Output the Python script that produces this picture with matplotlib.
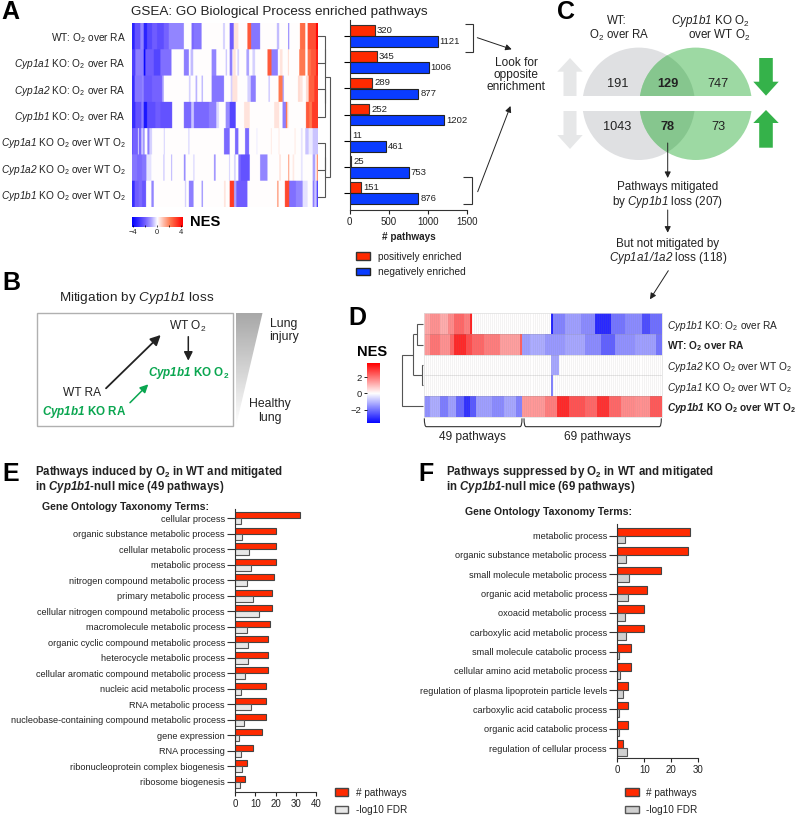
import numpy as np
import matplotlib
matplotlib.use("Agg")
import matplotlib.pyplot as plt
from matplotlib.colors import LinearSegmentedColormap
from matplotlib.patches import Circle, Rectangle, Polygon, PathPatch, Patch
from matplotlib.path import Path

plt.rcParams['font.family'] = ['Liberation Sans', 'DejaVu Sans']
plt.rcParams['mathtext.fontset'] = 'custom'
plt.rcParams['mathtext.rm'] = 'Liberation Sans'
plt.rcParams['mathtext.it'] = 'Liberation Sans:italic'
plt.rcParams['mathtext.cal'] = 'Liberation Sans:italic'
plt.rcParams['mathtext.bf'] = 'Liberation Sans:bold'
plt.rcParams['mathtext.bfit'] = 'Liberation Sans:italic:bold'

# ---------- data ----------
a_labels = [r"WT: O$_2$ over RA", r"$\mathcal{Cyp1a1}$ KO: O$_2$ over RA", r"$\mathcal{Cyp1a2}$ KO: O$_2$ over RA",
            r"$\mathcal{Cyp1b1}$ KO: O$_2$ over RA", r"$\mathcal{Cyp1a1}$ KO O$_2$ over WT O$_2$",
            r"$\mathcal{Cyp1a2}$ KO O$_2$ over WT O$_2$", r"$\mathcal{Cyp1b1}$ KO O$_2$ over WT O$_2$"]
a_pos = [320, 345, 289, 252, 11, 25, 151]
a_neg = [1121, 1006, 877, 1202, 461, 753, 876]

# heat map A: runs of (first column, last column, NES); all other columns are 0
a_columns = 556
a_row1 = [(0,8,-3.2),(8,25,-2.2),(25,35,-1.4),(35,45,-3.2),(45,60,-2.4),(60,75,-2.0),(75,95,-2.3),(95,110,-1.9),
          (110,155,-1.4),(178,185,-1.8),(185,208,-1.6),(272,278,-.5),(292,304,-2),(304,318,.4),(345,356,2.5),
          (356,383,-1.6),(433,440,-.7),(467,470,-1.6),(502,518,2.2),(525,550,2.7),(550,556,3.9)]
a_row2 = [(0,10,-2.6),(10,32,-1.5),(32,35,-1.5),(35,40,-3.8),(40,65,-2),(65,85,-2.5),(85,118,-1.7),(155,170,-1.5),(175,183,-.7),
          (238,252,-1.4),(280,284,-.6),(292,300,-1.5),(302,310,.4),(315,320,-.5),(342,350,-1),(360,368,-.5),
          (405,417,2.5),(417,436,-1.5),(442,450,.4),(466,469,.5),(500,518,2),(525,535,2.1),(535,550,2.5),(550,556,3.4)]
a_row3 = [(0,8,-3),(8,30,-1.6),(30,35,-1.4),(35,60,-2.1),(60,90,-1.9),(90,95,-1),(170,175,-.5),(190,195,-.8),(208,212,-.8),
          (238,275,-1.6),(295,300,-.5),(300,315,.4),(345,355,-.5),(355,370,-1.5),(408,412,-.6),(438,450,2),(450,454,-1),
          (496,502,.5),(502,510,.4),(520,528,.5),(528,545,2.4),(545,556,3)]
a_row4 = [(0,10,-3),(10,28,-2.2),(28,35,-1.5),(35,45,-3.5),(45,70,-2.3),(70,85,-2),(85,120,-2.2),(155,177,-1.8),
          (177,185,-.6),(185,230,-1.8),(230,252,-1.5),(252,260,-.4),(280,292,-1.3),(292,310,-2.5),(335,352,.4),
          (425,440,.4),(450,460,-1.5),(460,464,2),(464,468,.4),(520,530,2.5),(530,538,2),(538,556,3)]
a_row5 = [(0,3,-2.2),(3,18,-1.9),(20,28,-1.8),(28,32,-.4),(32,38,-1.1),(46,52,-1.5),(52,60,-.5),(95,98,-.5),(168,172,-.4),
          (275,292,-1.8),(308,318,-1.8),(338,350,-1.8),(372,375,-.2),(415,418,.3),(438,441,.3),(485,490,.2),
          (505,510,-.3),(518,528,-.6),(528,540,-.2),(540,556,-.6)]
a_row6 = [(0,15,-1.6),(15,30,-1.8),(30,43,-1.6),(43,58,-.3),(94,97,-.7),(117,120,-.8),(155,160,-1.3),(183,187,-.4),
          (245,250,-1.2),(290,293,-.5),(305,310,-.5),(318,325,-1.8),(325,352,-2.2),(383,405,-1.4),(440,445,.4),
          (467,470,1.5),(480,485,.3),(505,510,-.3),(540,548,-1),(552,556,1.5)]
a_row7 = [(0,8,-3),(8,20,-2),(20,30,-1.8),(30,42,-2.1),(58,65,-1.4),(158,162,-.5),(170,184,-1.5),(208,212,-1.2),
          (275,280,.4),(292,305,3),(305,312,-1),(312,345,-2),(434,438,1.5),(457,470,2.8),(470,490,-1.7),(490,510,-1.4),
          (510,525,-.3),(540,545,-1.5),(545,552,-.6),(552,556,-2.5)]

venn_counts = ["191", "747", "1043", "73"]
venn_shared = ["129", "78"]

d_labels = [r"$\mathcal{Cyp1b1}$ KO: O$_2$ over RA", r"WT: O$_\mathbf{2}$ over RA", r"$\mathcal{Cyp1a2}$ KO O$_2$ over WT O$_2$",
            r"$\mathcal{Cyp1a1}$ KO O$_2$ over WT O$_2$", r"$\mathbfit{Cyp1b1}$ KO O$_\mathbf{2}$ over WT O$_\mathbf{2}$"]
d_bold_rows = [1, 4]
d_columns = 118
d_row1 = [(0,3,1.3),(3,8,1.6),(8,12,1.2),(12,15,1.7),(15,20,2.2),(20,23,1.9),(23,24,3.2),(63,64,-3.2),(64,70,-1.8),
          (70,78,-1.4),(78,85,-1.7),(85,93,-3.1),(93,100,-2),(100,108,-1.7),(108,112,-2.6),(112,118,-2.1)]
d_row2 = [(0,3,1.5),(3,8,2),(8,13,1.6),(13,15,2.2),(15,21,3.1),(21,24,2.6),(24,30,2.2),(30,38,1.9),(38,48,1.4),(48,49,2.3),
          (49,53,-1.4),(53,60,-1.2),(60,70,-1.5),(70,80,-1.3),(80,88,-1.7),(88,95,-2.3),(95,105,-1.6),(105,115,-1.4),(115,118,-2)]
d_row3 = [(63,67,-1.3)]
d_row4 = [(63,64,-1.8)]
d_row5 = [(0,3,-1.6),(3,8,-1.2),(8,12,-1.9),(12,16,-1.4),(16,20,-2.2),(20,23,-3),(23,26,-2.4),(26,34,-1.4),(34,40,-1.7),
          (40,46,-1.3),(46,49,-1.8),(49,60,1.5),(60,66,1.9),(66,72,3.1),(72,80,2.5),(80,86,2.2),(86,92,3),(92,98,2.2),
          (98,105,1.7),(105,112,1.6),(112,118,2.4)]

e_terms = ["cellular process", "organic substance metabolic process", "cellular metabolic process", "metabolic process",
           "nitrogen compound metabolic process", "primary metabolic process", "cellular nitrogen compound metabolic process",
           "macromolecule metabolic process", "organic cyclic compound metabolic process", "heterocycle metabolic process",
           "cellular aromatic compound metabolic process", "nucleic acid metabolic process", "RNA metabolic process",
           "nucleobase-containing compound metabolic process", "gene expression", "RNA processing",
           "ribonucleoprotein complex biogenesis", "ribosome biogenesis"]
e_pathways = [32, 20, 20, 20, 19, 18, 18, 17, 16, 16, 16, 15, 15, 15, 13, 9, 6, 5]
e_fdr = [3, 3.5, 6.8, 7.8, 6, 8.8, 11.8, 5.6, 6.2, 6.4, 5, 3, 7.6, 4.5, 2, 2.6, 3.4, 2.5]

f_terms = ["metabolic process", "organic substance metabolic process", "small molecule metabolic process",
           "organic acid metabolic process", "oxoacid metabolic process", "carboxylic acid metabolic process",
           "small molecule catabolic process", "cellular amino acid metabolic process",
           "regulation of plasma lipoprotein particle levels", "carboxylic acid catabolic process",
           "organic acid catabolic process", "regulation of cellular process"]
f_pathways = [27, 26, 16, 11, 10, 10, 5, 5, 4, 4, 4, 2]
f_fdr = [3, 3.1, 4.3, 3.8, 3, 3.3, 0.6, 1, 2, 0.8, 0.8, 3.7]

# ---------- helpers ----------
W, H = 797, 815
fig = plt.figure(figsize=(W/100, H/100), dpi=100)
TXT = '#222222'
RED, BLUE = '#ff2a00', '#0a3cff'
FS = 6.8
bwr = LinearSegmentedColormap.from_list('nes', ['#0000ff', '#ffffff', '#ff0000'])
bwr_a = LinearSegmentedColormap.from_list('nes_a', [(0, '#0000ff'), (.25, '#6f5cff'), (.375, '#aaa0ff'), (.5, '#ffffff'),
                                                    (.625, '#ffb9a6'), (.75, '#ff7a50'), (1, '#ff0000')])

def px_axes(l, t, r, b, **kw):
    return fig.add_axes([l/W, 1-b/H, (r-l)/W, (b-t)/H], **kw)

def runs_to_row(runs, n):
    row = np.zeros(n)
    for s, e, v in runs:
        row[s:e] = v
    return row

bg = px_axes(0, 0, W, H)
bg.set_xlim(0, W); bg.set_ylim(H, 0); bg.axis('off')

def T(x, y, s, size=FS, ha='center', va='center', color=TXT, **kw):
    return bg.text(x, y, s, fontsize=size, ha=ha, va=va, color=color, **kw)

def L(xs, ys, color='#555555', lw=0.8, **kw):
    bg.plot(xs, ys, color=color, lw=lw, solid_capstyle='butt', solid_joinstyle='miter', **kw)

def arrow(x0, y0, x1, y1, color='#222222', lw=0.7, scale=9):
    bg.annotate('', xy=(x1, y1), xytext=(x0, y0),
                arrowprops=dict(arrowstyle='-|>', color=color, lw=lw, mutation_scale=scale,
                                shrinkA=0, shrinkB=0))

def style_axis(ax):
    for s in ('top', 'right'):
        ax.spines[s].set_visible(False)
    for s in ('left', 'bottom'):
        ax.spines[s].set_color('#333333'); ax.spines[s].set_linewidth(0.8)

def add_legend(ax, handles, x, y, w, h, spacing, fs):
    fs_px = fs*100/72
    ax.legend(handles=handles, loc='upper left', bbox_to_anchor=(x/W, 1-y/H), bbox_transform=fig.transFigure,
              frameon=False, fontsize=fs, borderpad=0, borderaxespad=0, handlelength=w/fs_px, handleheight=h/fs_px,
              handletextpad=7.5/fs_px, labelspacing=spacing/fs_px, labelcolor=TXT)

# panel letters
for x, y, s in [(1, 12, 'A'), (2, 283, 'B'), (557, 12, 'C'), (348, 318, 'D'), (2, 474, 'E'), (418, 474, 'F')]:
    T(x, y, s, size=18, ha='left', fontweight='bold', color='black')

# ---------- A ----------
T(131, 11.5, "GSEA: GO Biological Process enriched pathways", size=9.7, ha='left')
ax = px_axes(131.5, 23, 317.5, 207)
mat = np.array([runs_to_row(r, a_columns) for r in (a_row1, a_row2, a_row3, a_row4, a_row5, a_row6, a_row7)])
ax.imshow(np.repeat(mat, 40, axis=0), aspect='auto', cmap=bwr_a, vmin=-4, vmax=4, interpolation='hanning',
          interpolation_stage='rgba', extent=(-.5, a_columns-.5, 6.5, -.5))
ax.set_xticks([])
ax.set_yticks(range(7)); ax.set_yticklabels(a_labels, fontsize=7.25, color=TXT)
ax.tick_params(axis='y', length=0, pad=4)
for s in ax.spines.values():
    s.set_visible(False)

# A dendrogram
for xs, ys in [([317, 325, 325, 317], [36, 36, 62.7, 62.7]), ([317, 325.5, 325.5, 317], [89, 89, 116.7, 116.7]),
               ([325.5, 325.5], [49, 103]), ([325.5, 330, 330, 325], [76.7, 76.7, 176.7, 176.7]),
               ([317, 325, 325, 317], [143, 143, 170, 170]), ([325, 325, 317], [156.7, 196.7, 196.7])]:
    L(xs, ys)

# A bars
ax = px_axes(349.5, 20, 467.3, 210)
ys = np.arange(7)
ax.barh(ys-0.21, a_pos, 0.41, color=RED, edgecolor='#333333', lw=0.8, label='positively enriched')
ax.barh(ys+0.21, a_neg, 0.41, color=BLUE, edgecolor='#222222', lw=0.8, label='negatively enriched')
ax.set_xlim(0, 1500)
ax.set_ylim(6+(210-193.2)/26.2, -(36-20)/26.2)
for y, p, n in zip(ys, a_pos, a_neg):
    ax.text(p+28, y-0.21, str(p), fontsize=FS, va='center', color=TXT)
    ax.text(n+28, y+0.21, str(n), fontsize=FS, va='center', color=TXT)
ax.set_xticks([0, 500, 1000, 1500]); ax.set_yticks(ys); ax.set_yticklabels([])
ax.tick_params(axis='x', labelsize=7, colors=TXT, length=3, width=.8, pad=2)
ax.tick_params(axis='y', length=4, width=.8)
ax.set_xlabel('# pathways', fontsize=7.2, fontweight='bold', color=TXT, labelpad=4)
style_axis(ax); ax.patch.set_alpha(0)
add_legend(ax, [Patch(facecolor=RED, edgecolor='#333333', label='positively enriched'),
                Patch(facecolor=BLUE, edgecolor='#222222', label='negatively enriched')],
           356, 251.5, 14, 7.5, 5.5, 7.3)

# A colour bar
cax = px_axes(132.3, 216.7, 182.7, 227.3)
cax.imshow(np.linspace(-4, 4, 200)[None, :], aspect='auto', cmap=bwr_a, vmin=-4, vmax=4, extent=(-4.1, 4.3, 0, 1))
cax.set_yticks([]); cax.set_xticks([-4, 0, 4]); cax.set_xticklabels(['−4', '0', '4'], fontsize=5.4, color=TXT)
cax.set_xticks([-2, 2], minor=True)
cax.tick_params(axis='x', which='both', direction='in', length=1.5, width=.5, pad=1.5)
for s in cax.spines.values():
    s.set_visible(False)
T(190, 222.5, 'NES', size=10.6, ha='left', fontweight='bold', color='black')

# A to C connectors
L([465, 473.3, 473.3, 465], [24.3, 24.3, 52.3, 52.3], color='#333333')
L([463, 471.7, 471.7, 463], [177.3, 177.3, 204, 204], color='#333333')
arrow(477.3, 37.7, 511.7, 49.3)
arrow(477.7, 191.7, 510.5, 106)
for y, s in [(63, 'Look for'), (75, 'opposite'), (87, 'enrichment')]:
    T(516, y, s, size=8.6)

# ---------- B ----------
T(137, 298, r"Mitigation by $\mathcal{Cyp1b1}$ loss", size=9.7)
bg.add_patch(Rectangle((37.3, 313.3), 195.7, 112.7, fc='white', ec='#b0b0b0', lw=1))
tri = Polygon([(236, 313), (262.5, 313), (236, 426)], closed=True, fc='none', ec='none', transform=bg.transData)
bg.add_patch(tri)
grad = bg.imshow(np.linspace(0, 1, 100)[:, None], cmap=LinearSegmentedColormap.from_list('g', ['#a8a8a8', '#ffffff']),
                 extent=(236, 262.5, 426, 313), aspect='auto', zorder=1)
grad.set_clip_path(tri)
bg.set_xlim(0, W); bg.set_ylim(H, 0)
T(284, 324, 'Lung', size=8.8); T(284, 336.7, 'injury', size=8.8)
T(270, 404.3, 'Healthy', size=8.8); T(270, 417.7, 'lung', size=8.8)
T(188, 326.5, r"WT O$_2$", size=8.6)
T(82.3, 392.7, "WT RA", size=8.6)
GREEN = '#0aa650'
T(188.3, 372.7, r"$\mathbfit{Cyp1b1}$ KO O$_\mathbf{2}$", size=8.4, color=GREEN, fontweight='bold')
T(84.3, 411.7, r"$\mathbfit{Cyp1b1}$ KO RA", size=8.4, color=GREEN, fontweight='bold')
arrow(106, 388.3, 160.7, 335, lw=1.3, scale=15)
arrow(188.3, 336.7, 188.3, 360.7, lw=1.1, scale=13)
arrow(130, 402.7, 148.3, 384.3, color=GREEN, lw=1.1, scale=12)

# ---------- C ----------
T(617, 20.7, "WT:", size=8.3)
T(619.3, 35, r"O$_2$ over RA", size=8.3)
T(750, 20.7, r"$\mathcal{Cyp1b1}$ KO O$_2$", size=8.4, ha='right')
T(750, 35, r"over WT O$_2$", size=8.4, ha='right')
cy, r, gx, nx = 103.8, 56.2, 638.7, 695.7
bg.add_patch(Circle((gx, cy), r, fc='#dfe0e2', ec='none'))
bg.add_patch(Circle((nx, cy), r, fc='#9dd9a3', ec='none'))
ov = bg.add_patch(Circle((gx, cy), r, fc='#86c68e', ec='none'))
ov.set_clip_path(Circle((nx, cy), r, transform=bg.transData))
bg.add_patch(Rectangle((560, 96), 220, 15, fc='white', ec='none', zorder=2))

def block_arrow(cx, tail, base, tip, half, head, color):
    bg.add_patch(Polygon([(cx-half, tail), (cx-half, base), (cx-head, base), (cx, tip), (cx+head, base),
                          (cx+half, base), (cx+half, tail)], closed=True, fc=color, ec='none', zorder=3))
block_arrow(570, 96, 71.7, 58, 6.5, 12.7, '#e6e7e8')
block_arrow(570, 111, 135, 149, 6.5, 12.7, '#e6e7e8')
block_arrow(766, 58, 81.7, 95.7, 6.8, 12.7, '#35b24a')
block_arrow(766, 147.7, 123, 110, 6.8, 12.7, '#35b24a')
for (x, y), s in zip([(617.7, 84), (718.3, 84), (617.3, 126.7), (718.3, 126.7)], venn_counts):
    T(x, y, s, size=9.2, zorder=4)
for (x, y), s in zip([(667.7, 84), (667.3, 126.7)], venn_shared):
    T(x, y, s, size=9.2, fontweight='bold', zorder=4)
arrow(667.7, 143, 667.7, 178)
T(667.7, 187, "Pathways mitigated", size=8.4)
T(667.7, 201.7, r"by $\mathcal{Cyp1b1}$ loss (207)", size=8.4)
arrow(667.7, 210, 667.7, 232.7)
T(667.7, 244, "But not mitigated by", size=8.4)
T(667.7, 258, r"$\mathcal{Cyp1a1/1a2}$ loss (118)", size=8.4)
arrow(668.3, 270.7, 650, 299.3)

# ---------- D ----------
ax = px_axes(423.5, 313.3, 661.7, 416.7)
mat = np.array([runs_to_row(r, d_columns) for r in (d_row1, d_row2, d_row3, d_row4, d_row5)])
ax.pcolormesh(mat, cmap=bwr, vmin=-3.7, vmax=3.7, zorder=1)
ax.set_ylim(5, 0); ax.set_xlim(0, d_columns); ax.set_xticks([])
ax.vlines(np.arange(1, d_columns), 0, 5, color='#888888', lw=0.5, alpha=0.13, zorder=2)
ax.hlines(np.arange(1, 5), 0, d_columns, color='#888888', lw=0.5, alpha=0.3, zorder=2)
ax.yaxis.tick_right(); ax.set_yticks(np.arange(5)+.5); ax.set_yticklabels(d_labels, fontsize=7.3, color=TXT)
for i in d_bold_rows:
    ax.get_yticklabels()[i].set_fontweight('bold')
ax.tick_params(axis='y', length=0, pad=4)
for s in ax.spines.values():
    s.set_color('#dddddd'); s.set_linewidth(.5)

def Z(x, y):
    return 340+x/3, 295+y/3
for seg in [[(250, 88), (232, 88), (232, 150), (250, 150)], [(232, 118), (218, 118)], [(218, 118), (218, 240)],
            [(218, 240), (245, 240)], [(250, 210), (245, 210), (245, 270), (250, 270)],
            [(218, 180), (185, 180), (185, 333), (250, 333)]]:
    pts = [Z(*p) for p in seg]
    L([p[0] for p in pts], [p[1] for p in pts])
for x0, x1 in [(253, 546), (552, 964)]:
    p0, p1, p2, p3 = Z(x0, 370), Z(x0+6, 395), Z(x1-6, 395), Z(x1, 370)
    c0, c1 = Z(x0, 395), Z(x1, 395)
    bg.add_patch(PathPatch(Path([p0, c0, p1, p2, c1, p3],
                                [Path.MOVETO, Path.CURVE3, Path.CURVE3, Path.LINETO, Path.CURVE3, Path.CURVE3]),
                           fc='none', ec='#333333', lw=.8))
T(472.7, 437.3, "49 pathways", size=8.6)
T(597.3, 437.3, "69 pathways", size=8.6)

cax = px_axes(366.7, 363.3, 379.3, 422.7)
cax.imshow(np.linspace(3.7, -3.6, 200)[:, None], aspect='auto', cmap=bwr, vmin=-3.7, vmax=3.7, extent=(0, 1, -3.6, 3.7))
cax.set_xticks([]); cax.set_yticks([2, 0, -2]); cax.set_yticklabels(['2', '0', '−2'], fontsize=FS, color=TXT)
cax.tick_params(axis='y', length=2, width=.6, pad=1.5)
for s in cax.spines.values():
    s.set_visible(False)
T(372, 351.7, 'NES', size=10.5, fontweight='bold', color='black')

# ---------- E / F ----------
def go_bars(box, terms, pathways, fdr, xticks, first, step, height, grey):
    l, t, r, b = box
    ax = px_axes(l, t, r, b)
    ys = np.arange(len(terms))
    h = height/step
    ax.barh(ys-h/2, pathways, h, color=RED, edgecolor='#444444', lw=.8)
    ax.barh(ys+h/2, fdr, h, color=grey, edgecolor='#555555', lw=.8)
    ax.set_xlim(xticks[0], xticks[-1])
    ax.set_ylim((b-first)/step, (t-first)/step)
    ax.set_xticks(xticks); ax.set_yticks(ys); ax.set_yticklabels(terms, fontsize=6.6, color=TXT)
    ax.tick_params(axis='x', labelsize=7, colors=TXT, length=3, width=.8, pad=2)
    ax.tick_params(axis='y', length=6, width=.8, pad=1.5, color='#333333')
    style_axis(ax)
    return ax

ax = go_bars((235.3, 509.3, 316, 791.7), e_terms, e_pathways, e_fdr, [0, 10, 20, 30, 40], 518.3, 15.49, 6, '#e8e8e8')
add_legend(ax, [Patch(facecolor=RED, edgecolor='#444444', label='# pathways'),
                Patch(facecolor='#e8e8e8', edgecolor='#555555', label='-log10 FDR')], 335, 787.5, 13, 8, 7.5, 7.2)
T(35, 471.7, r"Pathways induced by O$_\mathbf{2}$ in WT and mitigated", size=8.3, ha='left', fontweight='bold')
T(35, 486.7, r"in $\mathbfit{Cyp1b1}$-null mice (49 pathways)", size=8.3, ha='left', fontweight='bold')
T(41.7, 507.3, "Gene Ontology Taxonomy Terms:", size=7.6, ha='left', fontweight='bold')

ax = go_bars((617.3, 524.3, 698.3, 758.3), f_terms, f_pathways, f_fdr, [0, 10, 20, 30], 535.7, 19.3, 7.7, '#d0d0d0')
add_legend(ax, [Patch(facecolor=RED, edgecolor='#444444', label='# pathways'),
                Patch(facecolor='#d0d0d0', edgecolor='#555555', label='-log10 FDR')], 625, 787.5, 13.5, 8, 7.5, 7.2)
T(445.7, 471.7, r"Pathways suppressed by O$_\mathbf{2}$ in WT and mitigated", size=8.3, ha='left', fontweight='bold')
T(445.7, 486.7, r"in $\mathbfit{Cyp1b1}$-null mice (69 pathways)", size=8.3, ha='left', fontweight='bold')
T(465, 511.7, "Gene Ontology Taxonomy Terms:", size=7.6, ha='left', fontweight='bold')

fig.savefig('out.png', dpi=100)
